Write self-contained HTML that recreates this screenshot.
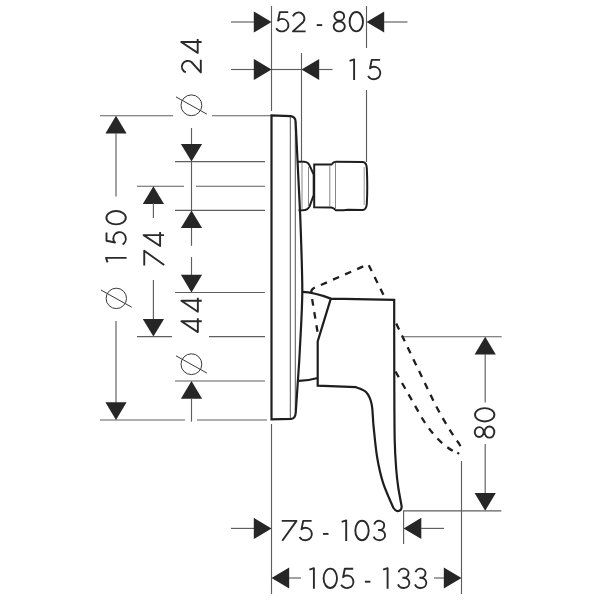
<!DOCTYPE html>
<html><head><meta charset="utf-8"><style>
html,body{margin:0;padding:0;background:#fff;}
svg{display:block;}
</style></head><body>
<svg width="600" height="600" viewBox="0 0 600 600">
<rect width="600" height="600" fill="#fff"/>
<line x1="271.5" y1="6" x2="271.5" y2="111" stroke="#5e5e5e" stroke-width="1.15"/>
<line x1="271.5" y1="424" x2="271.5" y2="594" stroke="#5e5e5e" stroke-width="1.15"/>
<line x1="366.5" y1="6" x2="366.5" y2="48" stroke="#5e5e5e" stroke-width="1.15"/>
<line x1="366.5" y1="90" x2="366.5" y2="162" stroke="#5e5e5e" stroke-width="1.15"/>
<line x1="301.5" y1="53" x2="301.5" y2="161" stroke="#5e5e5e" stroke-width="1.15"/>
<line x1="403.6" y1="510.5" x2="403.6" y2="544" stroke="#5e5e5e" stroke-width="1.15"/>
<line x1="461.5" y1="461" x2="461.5" y2="594" stroke="#5e5e5e" stroke-width="1.15"/>
<line x1="231" y1="22" x2="254" y2="22" stroke="#5e5e5e" stroke-width="1.15"/>
<polygon points="271.50,22.00 253.80,11.40 253.80,32.60" fill="#262626"/>
<polygon points="366.50,22.00 384.20,11.40 384.20,32.60" fill="#262626"/>
<line x1="384" y1="22" x2="407.5" y2="22" stroke="#5e5e5e" stroke-width="1.15"/>
<line x1="231" y1="69.5" x2="254" y2="69.5" stroke="#5e5e5e" stroke-width="1.15"/>
<polygon points="271.50,69.50 253.80,58.90 253.80,80.10" fill="#262626"/>
<line x1="271.5" y1="69.5" x2="301.5" y2="69.5" stroke="#5e5e5e" stroke-width="1.15"/>
<polygon points="301.50,69.50 319.20,58.90 319.20,80.10" fill="#262626"/>
<line x1="319" y1="69.5" x2="332.5" y2="69.5" stroke="#5e5e5e" stroke-width="1.15"/>
<line x1="100" y1="115.7" x2="173" y2="115.7" stroke="#5e5e5e" stroke-width="1.15"/>
<line x1="212" y1="115.7" x2="271.5" y2="115.7" stroke="#5e5e5e" stroke-width="1.15"/>
<line x1="175" y1="161.6" x2="265" y2="161.6" stroke="#5e5e5e" stroke-width="1.15"/>
<line x1="137" y1="186.2" x2="184" y2="186.2" stroke="#5e5e5e" stroke-width="1.15"/>
<line x1="196" y1="186.2" x2="265" y2="186.2" stroke="#5e5e5e" stroke-width="1.15"/>
<line x1="175" y1="210.4" x2="265" y2="210.4" stroke="#5e5e5e" stroke-width="1.15"/>
<line x1="175" y1="292.5" x2="265" y2="292.5" stroke="#5e5e5e" stroke-width="1.15"/>
<line x1="137" y1="336.6" x2="172" y2="336.6" stroke="#5e5e5e" stroke-width="1.15"/>
<line x1="209" y1="336.6" x2="265" y2="336.6" stroke="#5e5e5e" stroke-width="1.15"/>
<line x1="175" y1="381" x2="265" y2="381" stroke="#5e5e5e" stroke-width="1.15"/>
<line x1="100" y1="420" x2="185" y2="420" stroke="#5e5e5e" stroke-width="1.15"/>
<line x1="197" y1="420" x2="267" y2="420" stroke="#5e5e5e" stroke-width="1.15"/>
<polygon points="116.00,115.70 105.40,133.40 126.60,133.40" fill="#262626"/>
<line x1="116" y1="133" x2="116" y2="196.4" stroke="#5e5e5e" stroke-width="1.15"/>
<line x1="116" y1="321" x2="116" y2="403" stroke="#5e5e5e" stroke-width="1.15"/>
<polygon points="116.00,420.00 105.40,402.30 126.60,402.30" fill="#262626"/>
<line x1="191.5" y1="128" x2="191.5" y2="145" stroke="#5e5e5e" stroke-width="1.15"/>
<polygon points="191.50,161.60 180.90,143.90 202.10,143.90" fill="#262626"/>
<line x1="191.5" y1="161.6" x2="191.5" y2="210.4" stroke="#5e5e5e" stroke-width="1.15"/>
<polygon points="191.50,210.40 180.90,228.10 202.10,228.10" fill="#262626"/>
<line x1="191.5" y1="228" x2="191.5" y2="245.8" stroke="#5e5e5e" stroke-width="1.15"/>
<line x1="191.5" y1="257" x2="191.5" y2="275" stroke="#5e5e5e" stroke-width="1.15"/>
<polygon points="191.50,292.50 180.90,274.80 202.10,274.80" fill="#262626"/>
<polygon points="191.50,381.00 180.90,398.70 202.10,398.70" fill="#262626"/>
<line x1="191.5" y1="398" x2="191.5" y2="421.6" stroke="#5e5e5e" stroke-width="1.15"/>
<polygon points="153.40,186.20 142.80,203.90 164.00,203.90" fill="#262626"/>
<line x1="153.4" y1="203" x2="153.4" y2="218" stroke="#5e5e5e" stroke-width="1.15"/>
<line x1="153.4" y1="280" x2="153.4" y2="320" stroke="#5e5e5e" stroke-width="1.15"/>
<polygon points="153.40,336.60 142.80,318.90 164.00,318.90" fill="#262626"/>
<line x1="403" y1="336.7" x2="501.7" y2="336.7" stroke="#5e5e5e" stroke-width="1.15"/>
<polygon points="485.20,336.70 474.60,354.40 495.80,354.40" fill="#262626"/>
<line x1="485.2" y1="354" x2="485.2" y2="402.5" stroke="#5e5e5e" stroke-width="1.15"/>
<line x1="485.2" y1="444" x2="485.2" y2="494" stroke="#5e5e5e" stroke-width="1.15"/>
<polygon points="485.20,510.80 474.60,493.10 495.80,493.10" fill="#262626"/>
<line x1="403.6" y1="510.8" x2="501.3" y2="510.8" stroke="#5e5e5e" stroke-width="1.15"/>
<line x1="231" y1="528.4" x2="254" y2="528.4" stroke="#5e5e5e" stroke-width="1.15"/>
<polygon points="271.50,528.40 253.80,517.80 253.80,539.00" fill="#262626"/>
<polygon points="403.60,528.40 421.30,517.80 421.30,539.00" fill="#262626"/>
<line x1="421" y1="528.4" x2="444" y2="528.4" stroke="#5e5e5e" stroke-width="1.15"/>
<polygon points="271.50,578.00 289.20,567.40 289.20,588.60" fill="#262626"/>
<line x1="289" y1="578" x2="301" y2="578" stroke="#5e5e5e" stroke-width="1.15"/>
<line x1="434" y1="578" x2="444" y2="578" stroke="#5e5e5e" stroke-width="1.15"/>
<polygon points="461.50,578.00 443.80,567.40 443.80,588.60" fill="#262626"/>
<circle cx="191.4" cy="105.3" r="10.4" fill="none" stroke="#383838" stroke-width="1.0"/>
<line x1="176.0" y1="96.89999999999999" x2="206.8" y2="114.1" stroke="#383838" stroke-width="1.0"/>
<circle cx="116.3" cy="298.4" r="10.2" fill="none" stroke="#383838" stroke-width="1.0"/>
<line x1="100.89999999999999" y1="290.0" x2="131.7" y2="307.2" stroke="#383838" stroke-width="1.0"/>
<circle cx="191.4" cy="364.2" r="10.4" fill="none" stroke="#383838" stroke-width="1.0"/>
<line x1="176.0" y1="355.8" x2="206.8" y2="373.0" stroke="#383838" stroke-width="1.0"/>
<path transform="translate(274.80,11.20)" d="M13.4,0.9 L5.0,0.9 L3.3,9.4 C4.5,8.2 5.8,7.7 7.1,7.7 A6.55,6.25 0 1 1 1.35,17.0" fill="none" stroke="#2a2a2a" stroke-width="1.9" stroke-linejoin="round"/>
<path transform="translate(291.70,11.20)" d="M1.3,5.2 A5.9,6.0 0 1 1 11.6,10.8 L1.2,20.2 L13.9,20.2" fill="none" stroke="#2a2a2a" stroke-width="1.9" stroke-linejoin="round"/>
<path transform="translate(316.70,11.20)" d="M0,13.9 L5.5,13.9" fill="none" stroke="#2a2a2a" stroke-width="1.9" stroke-linejoin="round"/>
<path transform="translate(333.00,11.20)" d="M6.25,0.55 A4.9,4.45 0 1 1 6.25,9.45 A4.9,4.45 0 1 1 6.25,0.55 Z M6.25,10.35 A5.6,4.9 0 1 1 6.25,20.15 A5.6,4.9 0 1 1 6.25,10.35 Z" fill="none" stroke="#2a2a2a" stroke-width="1.9" stroke-linejoin="round"/>
<path transform="translate(348.80,11.20)" d="M7.5,0.8 A6.7,9.7 0 1 1 7.5,20.2 A6.7,9.7 0 1 1 7.5,0.8 Z" fill="none" stroke="#2a2a2a" stroke-width="1.9" stroke-linejoin="round"/>
<path transform="translate(349.20,59.00)" d="M0.4,1.9 L4.9,0.4 L4.9,21" fill="none" stroke="#2a2a2a" stroke-width="1.9" stroke-linejoin="round"/>
<path transform="translate(366.70,59.00)" d="M13.4,0.9 L5.0,0.9 L3.3,9.4 C4.5,8.2 5.8,7.7 7.1,7.7 A6.55,6.25 0 1 1 1.35,17.0" fill="none" stroke="#2a2a2a" stroke-width="1.9" stroke-linejoin="round"/>
<path transform="translate(281.30,520.00)" d="M0.4,0.85 L15.2,0.85 L1.0,20.8" fill="none" stroke="#2a2a2a" stroke-width="1.9" stroke-linejoin="round"/>
<path transform="translate(298.20,520.00)" d="M13.4,0.9 L5.0,0.9 L3.3,9.4 C4.5,8.2 5.8,7.7 7.1,7.7 A6.55,6.25 0 1 1 1.35,17.0" fill="none" stroke="#2a2a2a" stroke-width="1.9" stroke-linejoin="round"/>
<path transform="translate(323.00,520.00)" d="M0,13.9 L5.5,13.9" fill="none" stroke="#2a2a2a" stroke-width="1.9" stroke-linejoin="round"/>
<path transform="translate(341.30,520.00)" d="M0.4,1.9 L4.9,0.4 L4.9,21" fill="none" stroke="#2a2a2a" stroke-width="1.9" stroke-linejoin="round"/>
<path transform="translate(354.50,520.00)" d="M7.5,0.8 A6.7,9.7 0 1 1 7.5,20.2 A6.7,9.7 0 1 1 7.5,0.8 Z" fill="none" stroke="#2a2a2a" stroke-width="1.9" stroke-linejoin="round"/>
<path transform="translate(372.90,520.00)" d="M1.4,4.5 A5.0,4.6 0 1 1 6.3,10.0 M5.2,10.0 L6.3,10.0 A5.8,5.1 0 1 1 0.8,16.6" fill="none" stroke="#2a2a2a" stroke-width="1.9" stroke-linejoin="round"/>
<path transform="translate(309.00,567.80)" d="M0.4,1.9 L4.9,0.4 L4.9,21" fill="none" stroke="#2a2a2a" stroke-width="1.9" stroke-linejoin="round"/>
<path transform="translate(322.80,567.80)" d="M7.5,0.8 A6.7,9.7 0 1 1 7.5,20.2 A6.7,9.7 0 1 1 7.5,0.8 Z" fill="none" stroke="#2a2a2a" stroke-width="1.9" stroke-linejoin="round"/>
<path transform="translate(339.80,567.80)" d="M13.4,0.9 L5.0,0.9 L3.3,9.4 C4.5,8.2 5.8,7.7 7.1,7.7 A6.55,6.25 0 1 1 1.35,17.0" fill="none" stroke="#2a2a2a" stroke-width="1.9" stroke-linejoin="round"/>
<path transform="translate(364.90,567.80)" d="M0,13.9 L5.5,13.9" fill="none" stroke="#2a2a2a" stroke-width="1.9" stroke-linejoin="round"/>
<path transform="translate(382.70,567.80)" d="M0.4,1.9 L4.9,0.4 L4.9,21" fill="none" stroke="#2a2a2a" stroke-width="1.9" stroke-linejoin="round"/>
<path transform="translate(397.20,567.80)" d="M1.4,4.5 A5.0,4.6 0 1 1 6.3,10.0 M5.2,10.0 L6.3,10.0 A5.8,5.1 0 1 1 0.8,16.6" fill="none" stroke="#2a2a2a" stroke-width="1.9" stroke-linejoin="round"/>
<path transform="translate(414.20,567.80)" d="M1.4,4.5 A5.0,4.6 0 1 1 6.3,10.0 M5.2,10.0 L6.3,10.0 A5.8,5.1 0 1 1 0.8,16.6" fill="none" stroke="#2a2a2a" stroke-width="1.9" stroke-linejoin="round"/>
<path transform="translate(180.60,73.60) rotate(-90)" d="M1.3,5.2 A5.9,6.0 0 1 1 11.6,10.8 L1.2,20.2 L13.9,20.2" fill="none" stroke="#2a2a2a" stroke-width="1.9" stroke-linejoin="round"/>
<path transform="translate(180.60,53.30) rotate(-90)" d="M14.3,17.1 L0.4,17.1 L11.3,0.6 L11.3,21" fill="none" stroke="#2a2a2a" stroke-width="1.9" stroke-linejoin="round"/>
<path transform="translate(105.60,262.80) rotate(-90)" d="M0.4,1.9 L4.9,0.4 L4.9,21" fill="none" stroke="#2a2a2a" stroke-width="1.9" stroke-linejoin="round"/>
<path transform="translate(105.60,245.80) rotate(-90)" d="M13.4,0.9 L5.0,0.9 L3.3,9.4 C4.5,8.2 5.8,7.7 7.1,7.7 A6.55,6.25 0 1 1 1.35,17.0" fill="none" stroke="#2a2a2a" stroke-width="1.9" stroke-linejoin="round"/>
<path transform="translate(105.60,225.20) rotate(-90)" d="M7.5,0.8 A6.7,9.7 0 1 1 7.5,20.2 A6.7,9.7 0 1 1 7.5,0.8 Z" fill="none" stroke="#2a2a2a" stroke-width="1.9" stroke-linejoin="round"/>
<path transform="translate(143.40,266.00) rotate(-90)" d="M0.4,0.85 L15.2,0.85 L1.0,20.8" fill="none" stroke="#2a2a2a" stroke-width="1.9" stroke-linejoin="round"/>
<path transform="translate(143.00,246.40) rotate(-90)" d="M14.3,17.1 L0.4,17.1 L11.3,0.6 L11.3,21" fill="none" stroke="#2a2a2a" stroke-width="1.9" stroke-linejoin="round"/>
<path transform="translate(180.75,332.50) rotate(-90)" d="M14.3,17.1 L0.4,17.1 L11.3,0.6 L11.3,21" fill="none" stroke="#2a2a2a" stroke-width="1.9" stroke-linejoin="round"/>
<path transform="translate(180.75,312.10) rotate(-90)" d="M14.3,17.1 L0.4,17.1 L11.3,0.6 L11.3,21" fill="none" stroke="#2a2a2a" stroke-width="1.9" stroke-linejoin="round"/>
<path transform="translate(474.20,438.30) rotate(-90)" d="M6.25,0.55 A4.9,4.45 0 1 1 6.25,9.45 A4.9,4.45 0 1 1 6.25,0.55 Z M6.25,10.35 A5.6,4.9 0 1 1 6.25,20.15 A5.6,4.9 0 1 1 6.25,10.35 Z" fill="none" stroke="#2a2a2a" stroke-width="1.9" stroke-linejoin="round"/>
<path transform="translate(474.20,422.30) rotate(-90)" d="M7.5,0.8 A6.7,9.7 0 1 1 7.5,20.2 A6.7,9.7 0 1 1 7.5,0.8 Z" fill="none" stroke="#2a2a2a" stroke-width="1.9" stroke-linejoin="round"/>
<line x1="290.3" y1="117" x2="290.3" y2="418.5" stroke="#555" stroke-width="1.0"/>
<line x1="295.3" y1="121" x2="295.3" y2="410" stroke="#555" stroke-width="1.0"/>
<path d="M271.5,419.4 L271.5,115.3 L290.8,116.2 Q295.2,116.8 295.6,121.5 C297.5,160 299.5,195 300.2,215 C301.5,250 302.3,275 302.3,290 C302.3,310 300.5,335 299.3,360 L295.7,413 Q295.2,418.5 291.3,418.8 L271.5,419.4 Z" fill="none" stroke="#1e1e1e" stroke-width="2.2" />
<path d="M298,161.8 L304,161.8 Q308.5,162 310,166.5 L313.7,174.5 L313.7,195 L309.5,206.5 Q307.5,210.2 303,210.2 L298.5,210.2" fill="none" stroke="#1e1e1e" stroke-width="2.0" />
<line x1="308.5" y1="167" x2="308.5" y2="207" stroke="#888" stroke-width="1.0"/>
<line x1="302" y1="162.5" x2="302" y2="209.5" stroke="#888" stroke-width="1.0"/>
<path d="M314.2,164.6 L331.5,164.5 Q333.5,161.8 336,161.8 L363,162 Q366.5,162.5 366.8,168 C367.6,185 367.6,190 366.8,204 Q366.3,209.8 362.5,210 L348,209.8 Q341,210.6 336,210.2 Q333.5,207.6 331.5,207.4 L314.2,207.3 Z" fill="none" stroke="#1e1e1e" stroke-width="2.0" />
<line x1="329.8" y1="165.5" x2="329.8" y2="206.5" stroke="#888" stroke-width="1.0"/>
<line x1="335.5" y1="162.8" x2="335.5" y2="209.3" stroke="#888" stroke-width="1.0"/>
<line x1="364.2" y1="167" x2="364.2" y2="205" stroke="#999" stroke-width="1.0"/>
<path d="M302.2,291.9 Q314.1,292.3 330.8,298.6 L394.2,299.8 C394.20,304.83 394.18,316.63 394.20,330.00 C394.22,343.37 394.22,361.67 394.30,380.00 C394.38,398.33 394.37,425.00 394.70,440.00 C395.03,455.00 395.72,462.17 396.30,470.00 C396.88,477.83 397.32,481.00 398.20,487.00 C399.08,493.00 401.03,502.83 401.60,506.00 Q402,511 397.5,511.2 Q395,510.5 393.2,507.5 C391.50,503.35 385.68,491.02 383.00,482.60 C380.32,474.18 378.67,466.33 377.10,457.00 C375.53,447.67 374.52,435.43 373.60,426.60 C372.68,417.77 372.87,409.77 371.60,404.00 C370.33,398.23 368.60,394.80 366.00,392.00 C363.40,389.20 357.67,388.00 356.00,387.20 L317.7,385.7 L317.7,341.5 L330.8,298.6" fill="none" stroke="#1e1e1e" stroke-width="2.2" />
<path d="M298.8,380.8 Q309,380.5 317.7,378" fill="none" stroke="#1e1e1e" stroke-width="2.2" />
<path d="M317.5,331.7 L311.2,293.5 Q310.8,289.5 314,288 L368.3,264.2 L383.8,295.5" fill="none" stroke="#1e1e1e" stroke-width="2.3" stroke-dasharray="6.6,6.6"/>
<path d="M396.2,323.5 L433,400 C439,412 449,430 459,443.5 Q462.5,449 457.5,454" fill="none" stroke="#1e1e1e" stroke-width="2.3" stroke-dasharray="6.6,6.6"/>
<path d="M395.5,371.5 L422,418 C428,428 438,441 448,447.7 Q452.5,451 458,453.5" fill="none" stroke="#1e1e1e" stroke-width="2.3" stroke-dasharray="6.6,6.6"/>
</svg>
</body></html>
